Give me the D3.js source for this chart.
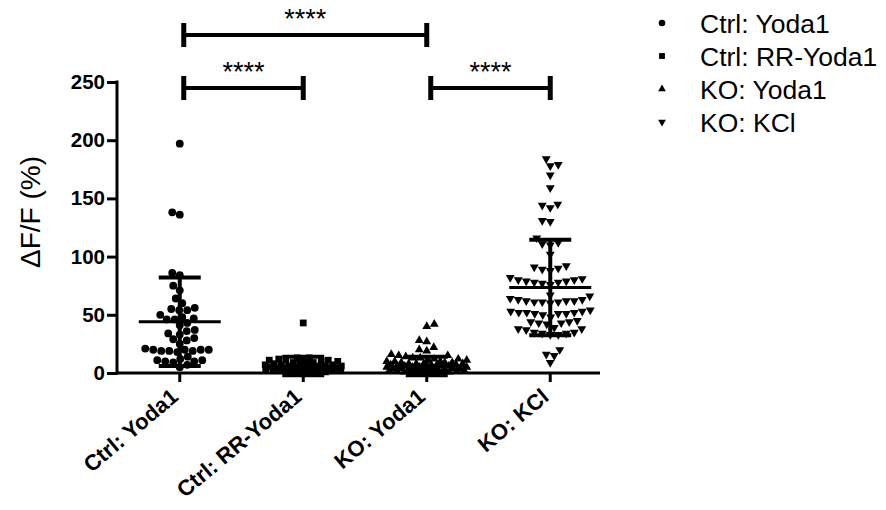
<!DOCTYPE html>
<html>
<head>
<meta charset="utf-8">
<script src="https://cdn.jsdelivr.net/npm/d3@7"></script>
<style>
  body { margin: 0; background: #fff; }
  svg { font-family: 'Liberation Sans', Arial, sans-serif; }
</style>
</head>
<body>
<div id="chart"></div>
<script>
// categories and values
var categories = ['Ctrl: Yoda1', 'Ctrl: RR-Yoda1', 'KO: Yoda1', 'KO: KCl'];

var ctrlYoda1 = [197, 138, 136, 86, 84, 75, 71, 64, 60, 56, 55, 54, 54, 50, 48, 47, 46, 46, 43, 41,
    37, 36, 34, 33, 30, 29, 28, 25, 21, 20, 20, 20, 20, 19, 19, 19, 18, 14, 12, 11, 11, 10, 10, 9, 7, 5];
var ctrlRRYoda1 = [43, 13, 13, 12, 12, 11, 11, 11, 10, 10, 9, 9, 8, 8, 8, 7, 7, 7, 6, 6, 6, 6, 5, 5, 5,
    5, 4, 4, 4, 4, 4, 3, 3, 3, 3, 3, 2, 2, 2, 2, 1, 1, 1, 1, 0.5, 0.5];
var koYoda1 = [42, 40, 28, 27, 22, 20, 19, 16, 15, 15, 14, 13, 13, 12, 12, 11, 11, 10, 10, 10, 9, 9, 9,
    8, 8, 8, 8, 7, 7, 7, 7, 6, 6, 6, 6, 5, 5, 5, 5, 5, 4, 4, 4, 4, 4, 3, 3, 3, 3, 3, 2, 2, 2, 2, 2,
    1, 1, 1, 1, 0.5, 0.5, 0.5];
var koKCl = [184, 179, 178, 170, 159, 145, 144, 142, 131, 130, 116, 112, 111, 110, 102, 92, 91, 90, 89,
    88, 82, 81, 80, 80, 79, 79, 78, 78, 77, 76, 67, 66, 64, 63, 63, 62, 62, 62, 61, 61, 61, 60, 54, 53,
    53, 52, 52, 52, 51, 51, 51, 50, 48, 45, 44, 44, 43, 43, 42, 39, 38, 38, 37, 35, 35, 34, 34, 33, 33,
    20, 16, 15, 9];

var means = [44, 6, 6, 73.5];
var sds = [38, 8, 8, 41];

var yTicks = [0, 50, 100, 150, 200, 250];

// significance comparisons: [from, to, label, level]
var comparisons = [
    ['Ctrl: Yoda1', 'KO: Yoda1', '****', 1],
    ['Ctrl: Yoda1', 'Ctrl: RR-Yoda1', '****', 0],
    ['KO: Yoda1', 'KO: KCl', '****', 0]
];

var groups = [ctrlYoda1, ctrlRRYoda1, koYoda1, koKCl];

var width = 886, height = 510;
var svg = d3.select('#chart').append('svg')
    .attr('width', width)
    .attr('height', height);

var x = d3.scaleBand().domain(categories).range([118, 612]);
var y = d3.scaleLinear().domain([0, 250]).range([373, 82]);
var cx = function(c){ return x(c) + x.bandwidth() / 2; };

var symbols = [
    d3.symbol().type(d3.symbolCircle).size(48),
    d3.symbol().type(d3.symbolSquare).size(46),
    d3.symbol().type(d3.symbolTriangle).size(34),
    d3.symbol().type(d3.symbolTriangle).size(34)
];
var flip = [false, false, false, true];

// simple beeswarm: place each point at the smallest offset that doesn't collide
function swarm(values, centre, diam, maxW){
    var placed = [];
    var sorted = values.slice().sort(function(a, b){ return a - b; });
    sorted.forEach(function(v, i){
        var py = y(v);
        var best = null, bestDist = -1;
        var sign = (i % 2 === 0) ? 1 : -1;
        for(var k = 0; k <= maxW * 4; k++){
            var off = (k % 2 === 0 ? 1 : -1) * sign * Math.ceil(k / 2) * 0.5;
            var minD = Infinity;
            for(var j = 0; j < placed.length; j++){
                var dx = placed[j].x - (centre + off), dy = placed[j].y - py;
                var d = Math.sqrt(dx * dx + dy * dy);
                if(d < minD) minD = d;
            }
            if(minD >= diam){ best = off; break; }
            if(minD > bestDist){ bestDist = minD; best = off; }
        }
        placed.push({x: centre + best, y: py});
    });
    return placed;
}

var maxWidths = [38, 38, 40, 40];
var diams = [7.6, 7.2, 7.5, 8];

// POINTS
groups.forEach(function(vals, gi){
    var pts = swarm(vals, cx(categories[gi]), diams[gi], maxWidths[gi]);
    svg.append('g').selectAll('path')
        .data(pts)
        .enter().append('path')
        .attr('d', symbols[gi])
        .attr('transform', function(d){
            return 'translate(' + d.x + ',' + d.y + ')' + (flip[gi] ? ' rotate(180)' : '');
        })
        .attr('fill', '#000');
});

// MEAN +/- SD
categories.forEach(function(c, i){
    var g = svg.append('g').attr('stroke', '#000');
    var xc = cx(c);
    g.append('line')
        .attr('x1', xc).attr('x2', xc)
        .attr('y1', y(means[i] - sds[i])).attr('y2', y(means[i] + sds[i]))
        .attr('stroke-width', 4);
    [means[i] - sds[i], means[i] + sds[i]].forEach(function(v){
        g.append('line')
            .attr('x1', xc - 21).attr('x2', xc + 21)
            .attr('y1', y(v)).attr('y2', y(v))
            .attr('stroke-width', 4);
    });
    g.append('line')
        .attr('x1', xc - 41).attr('x2', xc + 41)
        .attr('y1', y(means[i])).attr('y2', y(means[i]))
        .attr('stroke-width', 3);
});

// AXES
var yAxis = svg.append('g')
    .attr('transform', 'translate(117,0)')
    .call(d3.axisLeft(y).tickValues(yTicks).tickSize(10).tickPadding(2));
yAxis.select('.domain').remove();
yAxis.selectAll('line').attr('stroke-width', 3);
yAxis.selectAll('text')
    .attr('font-size', '20.5px')
    .attr('font-weight', 'bold')
    .attr('font-family', 'Liberation Sans, Arial, sans-serif')
    .attr('fill', '#000');

svg.append('line')
    .attr('x1', 117).attr('x2', 117)
    .attr('y1', y(250) - 1.5).attr('y2', y(0) + 1.5)
    .attr('stroke', '#000').attr('stroke-width', 3);
svg.append('line')
    .attr('x1', 117).attr('x2', 600)
    .attr('y1', y(0)).attr('y2', y(0))
    .attr('stroke', '#000').attr('stroke-width', 3);

var xAxis = svg.append('g')
    .attr('transform', 'translate(0,' + y(0) + ')')
    .call(d3.axisBottom(x).tickSize(9).tickPadding(0));
xAxis.select('.domain').remove();
xAxis.selectAll('line').attr('stroke-width', 3);
xAxis.selectAll('text')
    .attr('font-size', '22px')
    .attr('font-weight', 'bold')
    .attr('font-family', 'Liberation Sans, Arial, sans-serif')
    .attr('fill', '#000')
    .attr('text-anchor', 'end')
    .attr('dy', null)
    .attr('y', 0)
    .attr('transform', 'translate(0,26) rotate(-40)');

// axis title
svg.append('text')
    .attr('transform', 'translate(40,' + 212 + ') rotate(-90)')
    .attr('text-anchor', 'middle')
    .attr('font-size', '28px')
    .text('\u0394F/F (%)');

// SIGNIFICANCE BARS
var levelY = [88, 35];
comparisons.forEach(function(cmp){
    var x1 = cx(cmp[0]) + 4, x2 = cx(cmp[1]);
    var yy = levelY[cmp[3]];
    var g = svg.append('g').attr('stroke', '#000');
    g.append('line').attr('x1', x1).attr('x2', x2).attr('y1', yy).attr('y2', yy).attr('stroke-width', 4);
    g.append('line').attr('x1', x1).attr('x2', x1).attr('y1', yy - 12).attr('y2', yy + 12).attr('stroke-width', 5);
    g.append('line').attr('x1', x2).attr('x2', x2).attr('y1', yy - 12).attr('y2', yy + 12).attr('stroke-width', 5);
    svg.append('text')
        .attr('x', (x1 + x2) / 2)
        .attr('y', yy - 7)
        .attr('text-anchor', 'middle')
        .attr('font-size', '27px')
        .text(cmp[2]);
});

// LEGEND
var legend = svg.append('g').attr('transform', 'translate(662,23)');
categories.forEach(function(c, i){
    var row = legend.append('g').attr('transform', 'translate(0,' + (i * 33) + ')');
    var sym = d3.symbol().type([d3.symbolCircle, d3.symbolSquare, d3.symbolTriangle, d3.symbolTriangle][i])
        .size([34, 34, 26, 26][i]);
    row.append('path')
        .attr('d', sym)
        .attr('transform', flip[i] ? 'rotate(180)' : null)
        .attr('fill', '#000');
    row.append('text')
        .attr('x', 38)
        .attr('dy', '0.36em')
        .attr('font-size', '26.5px')
        .text(c);
});
</script>
</body>
</html>
